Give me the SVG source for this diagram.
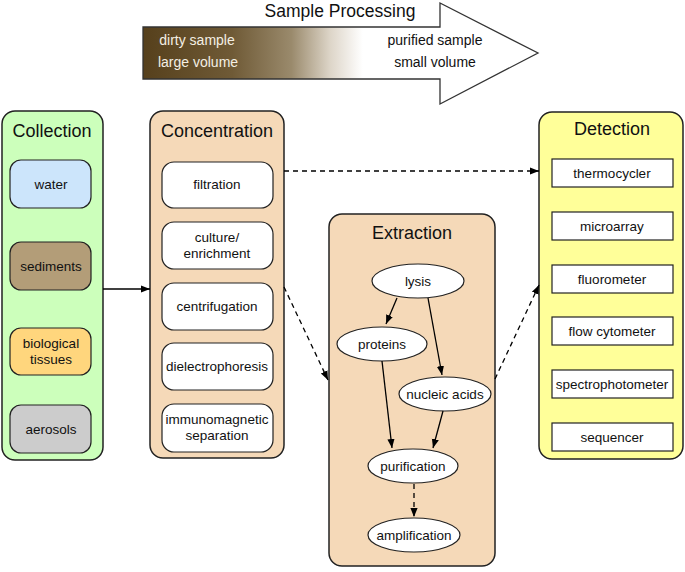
<svg xmlns="http://www.w3.org/2000/svg" width="685" height="572" viewBox="0 0 685 572">
<defs>
<linearGradient id="grad" x1="143" y1="0" x2="440" y2="0" gradientUnits="userSpaceOnUse">
<stop offset="0" stop-color="#56401c"/>
<stop offset="0.3" stop-color="#6f5a36"/>
<stop offset="0.5" stop-color="#9a8a6c"/>
<stop offset="0.63" stop-color="#ddd5c8"/>
<stop offset="0.74" stop-color="#ffffff"/>
<stop offset="1" stop-color="#ffffff"/>
</linearGradient>
<marker id="ah" viewBox="0 0 10 10" refX="10" refY="5" markerWidth="9" markerHeight="9" markerUnits="userSpaceOnUse" orient="auto">
<path d="M0,1 L10,5 L0,9 z" fill="#000"/>
</marker>
</defs>
<style>
text{font-family:"Liberation Sans",Arial,sans-serif;fill:#111;text-anchor:middle}
.title{font-size:18px}
.lbl{font-size:13.5px}
.group{stroke:#222;stroke-width:1.5}
.item{stroke:#222;stroke-width:1.2}
.edge{stroke:#000;stroke-width:1.3;fill:none;marker-end:url(#ah)}
.dash{stroke-dasharray:5,4}
</style>

<g id="sample-processing">
<path d="M143,27 H440 V3 L538,53 L440,104 V79 H143 Z" fill="url(#grad)" stroke="#333" stroke-width="1.3"/>
<text x="340" y="17" style="font-size:17.5px">Sample Processing</text>
<text x="197" y="45" style="font-size:14px;fill:#f4efe4">dirty sample</text>
<text x="198" y="67" style="font-size:14px;fill:#f4efe4">large volume</text>
<text x="435" y="45" style="font-size:14px">purified sample</text>
<text x="435" y="67" style="font-size:14px">small volume</text>
</g>

<g id="collection">
<rect x="2" y="111" width="101" height="349" rx="13" fill="#ccffbb" class="group"/>
<text x="52" y="137" class="title">Collection</text>
<g id="water"><rect x="10" y="160" width="81" height="48" rx="11" fill="#cce5fb" class="item"/><text x="51" y="189" class="lbl">water</text></g>
<g id="sediments"><rect x="10" y="242" width="81" height="48" rx="11" fill="#b39d78" class="item"/><text x="51" y="271" class="lbl">sediments</text></g>
<g id="biological-tissues"><rect x="10" y="328" width="81" height="47" rx="11" fill="#ffd67d" class="item"/><text x="51" y="348" class="lbl">biological</text><text x="51" y="364" class="lbl">tissues</text></g>
<g id="aerosols"><rect x="10" y="405" width="81" height="48" rx="11" fill="#cccccc" class="item"/><text x="51" y="434" class="lbl">aerosols</text></g>
</g>

<g id="concentration">
<rect x="150" y="111" width="134" height="347" rx="13" fill="#f5d9b8" class="group"/>
<text x="217" y="137" class="title">Concentration</text>
<g id="filtration"><rect x="162" y="162" width="111" height="46" rx="12" fill="#fff" class="item"/><text x="217" y="189" class="lbl">filtration</text></g>
<g id="culture"><rect x="162" y="222" width="111" height="47" rx="12" fill="#fff" class="item"/><text x="217" y="242" class="lbl">culture/</text><text x="217" y="258" class="lbl">enrichment</text></g>
<g id="centrifugation"><rect x="162" y="283" width="111" height="47" rx="12" fill="#fff" class="item"/><text x="217" y="311" class="lbl">centrifugation</text></g>
<g id="dielectrophoresis"><rect x="162" y="343" width="111" height="47" rx="12" fill="#fff" class="item"/><text x="217" y="371" class="lbl">dielectrophoresis</text></g>
<g id="immunomagnetic"><rect x="162" y="404" width="111" height="48" rx="12" fill="#fff" class="item"/><text x="217" y="424" class="lbl">immunomagnetic</text><text x="217" y="440" class="lbl">separation</text></g>
</g>

<g id="extraction">
<rect x="329" y="214" width="166" height="352" rx="13" fill="#f5d9b8" class="group"/>
<text x="412" y="239" class="title">Extraction</text>
<g id="lysis"><ellipse cx="418" cy="281" rx="46" ry="17" fill="#fff" class="item"/><text x="418" y="286" class="lbl">lysis</text></g>
<g id="proteins"><ellipse cx="382" cy="344" rx="45" ry="17" fill="#fff" class="item"/><text x="382" y="349" class="lbl">proteins</text></g>
<g id="nucleic-acids"><ellipse cx="445" cy="394" rx="46" ry="17" fill="#fff" class="item"/><text x="445" y="399" class="lbl">nucleic acids</text></g>
<g id="purification"><ellipse cx="413" cy="466" rx="45" ry="17" fill="#fff" class="item"/><text x="413" y="471" class="lbl">purification</text></g>
<g id="amplification"><ellipse cx="414" cy="535" rx="46" ry="17" fill="#fff" class="item"/><text x="414" y="540" class="lbl">amplification</text></g>
</g>

<g id="detection">
<rect x="539" y="112" width="144" height="347" rx="13" fill="#ffff99" class="group"/>
<text x="612" y="135" class="title">Detection</text>
<g id="thermocycler"><rect x="552" y="159" width="121" height="28" fill="#fff" class="item"/><text x="612" y="178" class="lbl">thermocycler</text></g>
<g id="microarray"><rect x="552" y="212" width="121" height="28" fill="#fff" class="item"/><text x="612" y="231" class="lbl">microarray</text></g>
<g id="fluorometer"><rect x="552" y="265" width="121" height="28" fill="#fff" class="item"/><text x="612" y="284" class="lbl">fluorometer</text></g>
<g id="flow-cytometer"><rect x="552" y="317" width="121" height="28" fill="#fff" class="item"/><text x="612" y="336" class="lbl">flow cytometer</text></g>
<g id="spectrophotometer"><rect x="552" y="370" width="121" height="28" fill="#fff" class="item"/><text x="612" y="389" class="lbl">spectrophotometer</text></g>
<g id="sequencer"><rect x="552" y="423" width="121" height="28" fill="#fff" class="item"/><text x="612" y="442" class="lbl">sequencer</text></g>
</g>

<g id="connectors">
<line x1="103" y1="289" x2="150" y2="289" class="edge"/>
<line x1="284" y1="171" x2="539" y2="171" class="edge dash"/>
<line x1="284" y1="287" x2="328" y2="380" class="edge dash"/>
<line x1="495" y1="379" x2="539" y2="285" class="edge dash"/>
<line x1="397" y1="298" x2="386" y2="324" class="edge"/>
<line x1="428" y1="298" x2="442" y2="375" class="edge"/>
<line x1="382" y1="361" x2="392" y2="448" class="edge"/>
<line x1="443" y1="411" x2="433" y2="448" class="edge"/>
<line x1="414" y1="484" x2="414" y2="517" class="edge dash"/>
</g>
</svg>
